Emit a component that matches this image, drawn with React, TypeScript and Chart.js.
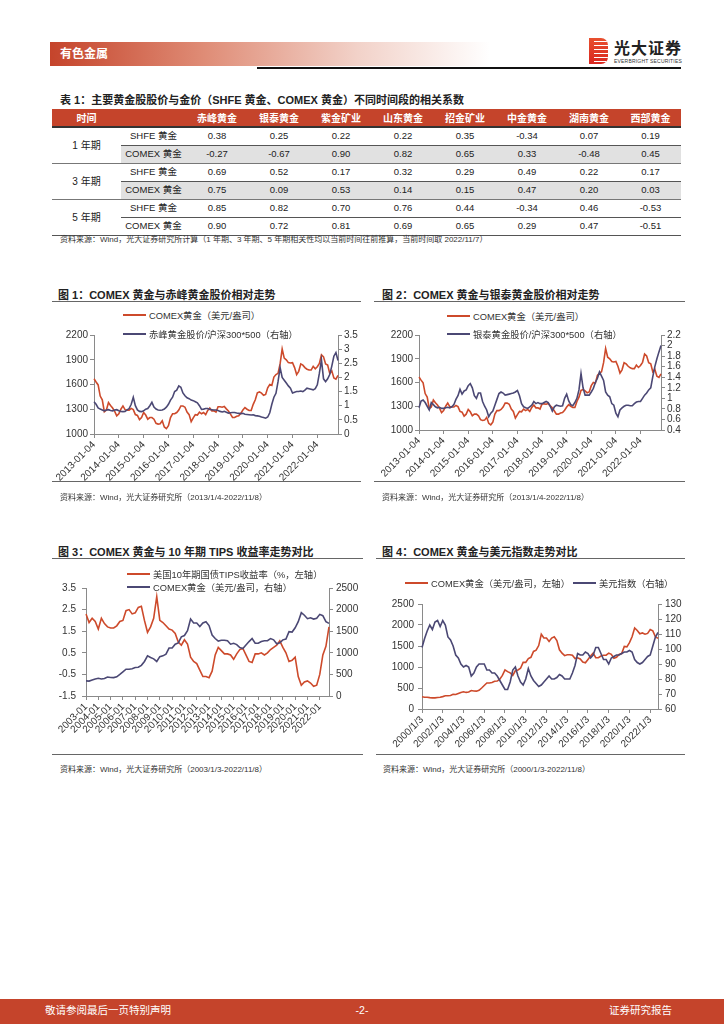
import React, { useEffect, useRef } from 'react';
import { Chart, registerables } from 'chart.js';
Chart.register(...registerables);

const RED = '#cd4a2b';
const NAVY = '#4b4874';
const HEADER_RED = '#c5442b';
const AXIS = '#8a8a8a';
const FONT = '"Liberation Sans", "Noto Sans CJK SC", sans-serif';

// ---------------- Table data ----------------
const stockNames = ['赤峰黄金', '银泰黄金', '紫金矿业', '山东黄金', '招金矿业', '中金黄金', '湖南黄金', '西部黄金'];
const periodNames = ['1 年期', '3 年期', '5 年期'];
const goldRefs = ['SHFE 黄金', 'COMEX 黄金'];
const corr1ySHFE = ['0.38', '0.25', '0.22', '0.22', '0.35', '-0.34', '0.07', '0.19'];
const corr1yCOMEX = ['-0.27', '-0.67', '0.90', '0.82', '0.65', '0.33', '-0.48', '0.45'];
const corr3ySHFE = ['0.69', '0.52', '0.17', '0.32', '0.29', '0.49', '0.22', '0.17'];
const corr3yCOMEX = ['0.75', '0.09', '0.53', '0.14', '0.15', '0.47', '0.20', '0.03'];
const corr5ySHFE = ['0.85', '0.82', '0.70', '0.76', '0.44', '-0.34', '0.46', '-0.53'];
const corr5yCOMEX = ['0.90', '0.72', '0.81', '0.69', '0.65', '0.29', '0.47', '-0.51'];
const corrRows = [corr1ySHFE, corr1yCOMEX, corr3ySHFE, corr3yCOMEX, corr5ySHFE, corr5yCOMEX];

// ---------------- Chart data ----------------
function monthLabels(startY: number, endY: number, endM: number) {
  const out: string[] = [];
  for (let y = startY; y <= endY; y++) {
    for (let m = 1; m <= 12; m++) {
      if (y === endY && m > endM) break;
      out.push(`${y}-${String(m).padStart(2, '0')}`);
    }
  }
  return out;
}
function quarterLabels(startY: number, endY: number) {
  const out: string[] = [];
  for (let y = startY; y <= endY; y++) for (const m of ['01', '04', '07', '10']) out.push(`${y}-${m}`);
  return out;
}
const months2013 = monthLabels(2013, 2022, 11);
const quarters2000 = quarterLabels(2000, 2022);
const quarters2003 = quarters2000.slice(12);

// COMEX gold, monthly 2013-01 .. 2022-11 (USD/oz)
const goldMonthly = [
  1670, 1630, 1595, 1460, 1415, 1270, 1290, 1380, 1345, 1315, 1275, 1220,
  1245, 1300, 1340, 1295, 1290, 1290, 1310, 1295, 1235, 1225, 1175, 1200,
  1260, 1230, 1180, 1200, 1200, 1180, 1130, 1120, 1125, 1160, 1085, 1065,
  1100, 1200, 1245, 1245, 1260, 1290, 1340, 1340, 1325, 1265, 1235, 1150,
  1195, 1235, 1230, 1265, 1245, 1260, 1235, 1285, 1315, 1280, 1280, 1265,
  1330, 1330, 1325, 1335, 1305, 1280, 1240, 1200, 1200, 1215, 1220, 1250,
  1290, 1320, 1300, 1285, 1285, 1360, 1415, 1500, 1510, 1495, 1470, 1480,
  1560, 1600, 1590, 1690, 1720, 1735, 1850, 2030, 1920, 1900, 1865, 1860,
  1865, 1805, 1720, 1760, 1850, 1835, 1805, 1785, 1775, 1775, 1820, 1790,
  1815, 1855, 1960, 1935, 1850, 1835, 1735, 1765, 1680, 1665, 1710,
];
// 赤峰黄金股价/沪深300*500, monthly
const chifengRatio = [
  1.14, 1.05, 0.92, 0.88, 0.85, 0.82, 0.85, 0.86, 0.83, 0.82, 0.85, 0.86,
  0.82, 0.8, 0.79, 0.8, 0.85, 0.9, 1.05, 1.3, 1.0, 0.85, 0.8, 0.79,
  0.82, 0.88, 0.9, 1.0, 1.12, 0.95, 0.88, 0.85, 0.84, 0.85, 0.88, 0.95,
  1.05, 1.2, 1.3, 1.5, 1.55, 1.7, 1.65, 1.45, 1.35, 1.28, 1.25, 1.2,
  1.18, 1.14, 1.1, 1.0, 0.87, 0.88, 0.9, 0.9, 0.87, 0.86, 0.85, 0.85,
  0.83, 0.8, 0.78, 0.8, 0.77, 0.74, 0.75, 0.76, 0.76, 0.74, 0.73, 0.72,
  0.73, 0.7, 0.69, 0.68, 0.67, 0.68, 0.65, 0.64, 0.63, 0.6, 0.58, 0.56,
  0.6, 0.75, 1.05, 1.3, 1.44, 1.85, 2.35, 2.0, 1.9, 1.8, 1.7, 1.62,
  1.45, 1.48, 1.5, 1.5, 1.52, 1.5, 1.55, 1.62, 1.6, 1.58, 1.56, 1.6,
  1.74, 2.15, 2.62, 1.95, 1.85, 1.95, 2.1, 2.4, 2.75, 2.88, 2.6,
];
// 银泰黄金股价/沪深300*500, monthly
const yintaiRatio = [
  0.82, 0.95, 0.97, 0.92, 0.85, 0.78, 0.92, 0.88, 0.84, 0.82, 0.83, 0.81,
  0.81, 0.82, 0.83, 0.82, 0.84, 0.88, 0.98, 1.05, 1.17, 1.08, 1.14, 1.16,
  1.24, 1.28, 1.2, 1.05, 1.0, 1.1, 1.1, 0.94, 0.85, 0.78, 0.65, 0.72,
  0.76, 0.87, 0.98, 1.09, 1.12, 1.1, 1.06, 1.07, 1.08, 1.09, 1.1, 1.12,
  1.15, 1.05, 0.9, 0.84, 0.82, 0.81, 0.84, 0.87, 0.94, 0.9, 0.92, 0.9,
  0.9, 0.92, 0.94, 0.92, 0.85, 0.76, 0.84, 0.87, 0.86, 0.85, 0.86, 1.0,
  1.08, 0.95, 0.88, 0.86, 0.92, 1.0, 1.16, 1.47, 1.2, 1.06, 1.06, 1.06,
  1.12, 1.19, 1.3, 1.38, 1.5, 1.42, 1.34, 1.12, 1.06, 1.03, 0.9, 0.87,
  0.72, 0.65, 0.78, 0.82, 0.85, 0.87, 0.87, 0.86, 0.86, 0.9, 0.93, 0.94,
  0.94, 1.0, 1.06, 1.1, 1.16, 1.2, 1.41, 1.6, 1.75, 1.88, 2.0,
];
// COMEX gold, quarterly 2000Q1 .. 2022Q4
const goldQuarterly = [
  290, 280, 280, 270,
  265, 265, 275, 280,
  295, 315, 315, 320,
  350, 345, 370, 395,
  410, 395, 405, 440,
  430, 425, 445, 500,
  560, 620, 620, 630,
  660, 665, 710, 800,
  930, 890, 860, 800,
  910, 930, 970, 1110,
  1110, 1200, 1230, 1370,
  1400, 1510, 1780, 1690,
  1690, 1610, 1690, 1720,
  1630, 1410, 1330, 1270,
  1290, 1290, 1280, 1200,
  1220, 1190, 1120, 1100,
  1180, 1260, 1330, 1220,
  1220, 1260, 1280, 1280,
  1330, 1300, 1210, 1230,
  1300, 1320, 1490, 1480,
  1580, 1720, 1930, 1870,
  1790, 1810, 1780, 1800,
  1890, 1860, 1720, 1680,
];
// US dollar index, quarterly 2000Q1 .. 2022Q4
const usdIndexQuarterly = [
  101, 107, 112, 116,
  113, 118, 119, 115,
  119, 116, 108, 106,
  102, 96, 94, 90,
  88, 89, 88, 82,
  84, 88, 90, 90,
  90, 86, 86, 84,
  84, 82, 79, 76,
  73, 73, 78, 86,
  88, 82, 78, 76,
  80, 87, 82, 79,
  77, 75, 76, 78,
  80, 82, 80, 80,
  81, 83, 82, 80,
  80, 80, 84, 89,
  97, 96, 96, 98,
  97, 94, 96, 101,
  101, 97, 93, 93,
  90, 94, 95, 96,
  96, 97, 98, 98,
  99, 98, 93, 91,
  90, 91, 93, 95,
  96, 102, 108, 111,
];
// US 10Y TIPS yield (%), quarterly 2003Q1 .. 2022Q4
const tipsYieldQuarterly = [
  2.3, 1.9, 2.1, 1.95,
  1.6, 2.1, 1.85, 1.7,
  1.65, 1.65, 1.75, 1.95,
  2.0, 2.45, 2.5, 2.3,
  2.35, 2.6, 2.65, 2.0,
  1.45, 1.7, 2.1, 3.1,
  2.0, 1.9, 1.75, 1.6,
  1.55, 1.4, 1.0, 0.85,
  1.1, 0.9, 0.3, 0.1,
  0.0, -0.3, -0.6, -0.6,
  -0.65, -0.35, 0.4, 0.75,
  0.6, 0.45, 0.45, 0.4,
  0.2, 0.45, 0.65, 0.7,
  0.4, 0.1, 0.05, 0.45,
  0.45, 0.5, 0.4, 0.5,
  0.65, 0.75, 0.85, 1.05,
  0.75, 0.5, 0.1, 0.15,
  0.3, -0.6, -1.0, -0.85,
  -0.8, -0.9, -1.05, -1.0,
  -0.5, 0.4, 0.8, 1.7,
];
const goldQuarterly2003 = goldQuarterly.slice(12);

// axis tick values
const ticksGold1000 = [1000, 1300, 1600, 1900, 2200];
const ticksChifeng = [0, 0.5, 1, 1.5, 2, 2.5, 3, 3.5];
const ticksYintai = [0.4, 0.6, 0.8, 1, 1.2, 1.4, 1.6, 1.8, 2, 2.2];
const ticksTips = [-1.5, -0.5, 0.5, 1.5, 2.5, 3.5];
const ticksGold0 = [0, 500, 1000, 1500, 2000, 2500];
const ticksUsd = [60, 70, 80, 90, 100, 110, 120, 130];

const fmtYearDay = (l: string) => (l.endsWith('-01') ? `${l.slice(0, 4)}-01-04` : '');
const fmtYearMonth = (l: string) => (l.endsWith('-01') ? `${l.slice(0, 4)}-01` : '');
const fmtEvenYear = (l: string) => (l.endsWith('-01') && Number(l.slice(0, 4)) % 2 === 0 ? `${l.slice(0, 4)}/1/3` : '');

type Series = { data: number[]; color: string; axis: 'yL' | 'yR' };
type AxisSpec = { min: number; max: number; ticks: number[]; width: number; pad: number };
type ChartProps = {
  left: number; top: number; width: number; height: number; padTop: number; xH: number;
  labels: string[]; xFmt: (l: string) => string; series: Series[]; yL: AxisSpec; yR: AxisSpec;
};

function DualLineChart(p: ChartProps) {
  const ref = useRef<HTMLCanvasElement>(null);
  useEffect(() => {
    const tickFont = { family: FONT, size: 10 };
    const yAxis = (spec: AxisSpec, pos: 'left' | 'right') => ({
      type: 'linear' as const,
      position: pos,
      min: spec.min,
      max: spec.max,
      afterBuildTicks: (s: any) => { s.ticks = spec.ticks.map((v) => ({ value: v })); },
      afterFit: (s: any) => { s.width = spec.width; },
      grid: { drawOnChartArea: false, drawTicks: true, tickLength: 4, color: AXIS, tickColor: AXIS },
      border: { display: true, color: AXIS, width: 1 },
      ticks: { autoSkip: false, color: '#333', font: tickFont, padding: spec.pad, callback: (v: any) => String(v) },
    });
    const chart = new Chart(ref.current!, {
      type: 'line',
      data: {
        labels: p.labels,
        datasets: p.series.map((s) => ({
          data: s.data, borderColor: s.color, backgroundColor: s.color, borderWidth: 1.6,
          pointRadius: 0, tension: 0, yAxisID: s.axis, fill: false,
        })),
      },
      options: {
        animation: false,
        responsive: false,
        devicePixelRatio: 1,
        layout: { padding: { top: p.padTop, left: 0, right: 0, bottom: 0 } },
        plugins: { legend: { display: false }, tooltip: { enabled: false } },
        scales: {
          x: {
            type: 'category',
            offset: false,
            afterFit: (s: any) => { s.height = p.xH; },
            grid: {
              drawOnChartArea: false, drawTicks: true, tickLength: 4,
              color: (c: any) => (c.tick && c.tick.label ? AXIS : 'rgba(0,0,0,0)'),
              tickColor: (c: any) => (c.tick && c.tick.label ? AXIS : 'rgba(0,0,0,0)'),
            },
            border: { display: true, color: AXIS, width: 1 },
            ticks: {
              autoSkip: false, minRotation: 45, maxRotation: 45, padding: 1, color: '#333', font: tickFont,
              callback: (_v: any, i: number) => p.xFmt(p.labels[i]),
            },
          },
          yL: yAxis(p.yL, 'left'),
          yR: yAxis(p.yR, 'right'),
        } as any,
      },
    });
    return () => chart.destroy();
  }, []);
  return (
    <canvas ref={ref} width={p.width} height={p.height}
      style={{ position: 'absolute', left: p.left, top: p.top, width: p.width, height: p.height }} />
  );
}

const abs = (left: number, top: number, extra: React.CSSProperties = {}): React.CSSProperties => ({
  position: 'absolute', left, top, ...extra,
});

function Text({ x, y, size, children, bold, color = '#222', align = 'left', w }: any) {
  const style: React.CSSProperties = {
    position: 'absolute', top: y - size * 0.75, fontSize: size, lineHeight: `${size * 1.5}px`,
    height: size * 1.5, whiteSpace: 'nowrap', fontWeight: bold ? 700 : 400, color,
  };
  if (align === 'center') { style.left = x - w / 2; style.width = w; style.textAlign = 'center'; }
  else if (align === 'right') { style.left = x - w; style.width = w; style.textAlign = 'right'; }
  else style.left = x;
  return <div style={style}>{children}</div>;
}

function Legend({ x, y, color, text }: { x: number; y: number; color: string; text: string }) {
  return (
    <div style={abs(x, y - 7, { height: 14, display: 'flex', alignItems: 'center', whiteSpace: 'nowrap', fontSize: 9.3, color: '#333' })}>
      <span style={{ display: 'inline-block', width: 23, height: 2, background: color, marginRight: 3 }} />
      {text}
    </div>
  );
}

function HLine({ x1, x2, y, h = 1, color = '#666' }: any) {
  return <div style={abs(x1, y, { width: x2 - x1, height: h, background: color })} />;
}

const colEdges = [52, 121, 186, 248, 310, 372, 434, 496, 558, 620, 681];
const rowTop = 127;
const rowH = 18;

function CorrTable() {
  const cells: React.ReactNode[] = [];
  cells.push(<div key="hdr" style={abs(colEdges[0], 109, { width: colEdges[10] - colEdges[0], height: 18, background: HEADER_RED })} />);
  cells.push(<Text key="h0" x={(colEdges[0] + colEdges[1]) / 2} y={118} size={10} bold color="#fff" align="center" w={60}>时间</Text>);
  stockNames.forEach((n, i) => {
    cells.push(<Text key={'h' + n} x={(colEdges[i + 2] + colEdges[i + 3]) / 2} y={118} size={10} bold color="#fff" align="center" w={60}>{n}</Text>);
  });
  corrRows.forEach((vals, r) => {
    const top = rowTop + r * rowH;
    if (r % 2 === 1 && r < 4) {
      cells.push(<div key={'bg' + r} style={abs(colEdges[1], top, { width: colEdges[10] - colEdges[1], height: rowH, background: '#e1e1e1' })} />);
    }
    cells.push(<Text key={'ref' + r} x={(colEdges[1] + colEdges[2]) / 2} y={top + 9} size={9.5} color="#222" align="center" w={64}>{goldRefs[r % 2]}</Text>);
    vals.forEach((v, c) => {
      cells.push(<Text key={`v${r}-${c}`} x={(colEdges[c + 2] + colEdges[c + 3]) / 2} y={top + 9} size={9.5} color="#222" align="center" w={60}>{v}</Text>);
    });
  });
  periodNames.forEach((p, i) => {
    cells.push(<Text key={'p' + i} x={(colEdges[0] + colEdges[1]) / 2} y={rowTop + i * 2 * rowH + rowH} size={10} color="#222" align="center" w={60}>{p}</Text>);
  });
  cells.push(<HLine key="l0" x1={colEdges[0]} x2={colEdges[10]} y={126} h={2} color="#333" />);
  [1, 3, 5].forEach((r) => cells.push(<HLine key={'li' + r} x1={colEdges[1]} x2={colEdges[10]} y={rowTop + r * rowH} h={1} color="#555" />));
  [2, 4].forEach((r) => cells.push(<HLine key={'lg' + r} x1={colEdges[0]} x2={colEdges[10]} y={rowTop + r * rowH} h={1} color="#777" />));
  cells.push(<HLine key="lb" x1={colEdges[0]} x2={colEdges[10]} y={rowTop + 6 * rowH} h={1} color="#555" />);
  return <>{cells}</>;
}

function Logo() {
  const stripes = [0, 1, 2, 3, 4, 5];
  return (
    <>
      <div style={abs(589, 38, { width: 19, height: 26, background: 'linear-gradient(180deg,#e8502f,#d9261f)', borderRadius: '0 7px 7px 0', overflow: 'hidden' })}>
        {stripes.map((s) => (
          <div key={s} style={abs(5, 3 + s * 4, { width: 14, height: 1.3, background: '#fff' })} />
        ))}
      </div>
      <div style={abs(614, 40, { fontSize: 16, fontWeight: 700, color: '#222', letterSpacing: 1, lineHeight: '18px', whiteSpace: 'nowrap' })}>光大证券</div>
      <div style={abs(614, 58, { fontSize: 5, color: '#333', lineHeight: '6px', whiteSpace: 'nowrap', letterSpacing: 0.2 })}>EVERBRIGHT SECURITIES</div>
    </>
  );
}

export default function App() {
  return (
    <div style={{ position: 'absolute', left: 0, top: 0, width: 724, height: 1024, background: '#fff', overflow: 'hidden', fontFamily: FONT }}>
      {/* page header */}
      <div style={abs(50, 42, { width: 440, height: 24, background: `linear-gradient(90deg, ${HEADER_RED} 0%, #df8c76 35%, #f2d2c9 70%, #ffffff 100%)` })} />
      <Text x={60} y={54} size={12} bold color="#fff">有色金属</Text>
      <HLine x1={257} x2={681} y={67} h={1.5} color="#111" />
      <Logo />

      {/* table */}
      <Text x={60} y={100} size={11} bold color="#222">表 1：主要黄金股股价与金价（SHFE 黄金、COMEX 黄金）不同时间段的相关系数</Text>
      <CorrTable />
      <Text x={60} y={240} size={8} color="#333">资料来源：Wind，光大证券研究所计算（1 年期、3 年期、5 年期相关性均以当前时间往前推算，当前时间取 2022/11/7）</Text>

      {/* chart 1 */}
      <Text x={58} y={295} size={11} bold color="#222">图 1：COMEX 黄金与赤峰黄金股价相对走势</Text>
      <HLine x1={52} x2={361} y={301} h={1} color="#666" />
      <DualLineChart left={50} top={325} width={312} height={157} padTop={10} xH={48}
        labels={months2013} xFmt={fmtYearDay}
        series={[{ data: chifengRatio, color: NAVY, axis: 'yR' }, { data: goldMonthly, color: RED, axis: 'yL' }]}
        yL={{ min: 1000, max: 2200, ticks: ticksGold1000, width: 44, pad: 2 }}
        yR={{ min: 0, max: 3.5, ticks: ticksChifeng, width: 24, pad: 2 }} />
      <Legend x={123} y={315} color={RED} text="COMEX黄金（美元/盎司）" />
      <Legend x={123} y={334} color={NAVY} text="赤峰黄金股价/沪深300*500（右轴）" />
      <HLine x1={52} x2={361} y={481} h={1} color="#666" />
      <Text x={60} y={498} size={8} color="#333">资料来源：Wind，光大证券研究所（2013/1/4-2022/11/8）</Text>

      {/* chart 2 */}
      <Text x={382} y={295} size={11} bold color="#222">图 2：COMEX 黄金与银泰黄金股价相对走势</Text>
      <HLine x1={374} x2={685} y={301} h={1} color="#666" />
      <DualLineChart left={372} top={325} width={318} height={153} padTop={10} xH={48}
        labels={months2013} xFmt={fmtYearDay}
        series={[{ data: yintaiRatio, color: NAVY, axis: 'yR' }, { data: goldMonthly, color: RED, axis: 'yL' }]}
        yL={{ min: 1000, max: 2200, ticks: ticksGold1000, width: 47, pad: 2 }}
        yR={{ min: 0.4, max: 2.2, ticks: ticksYintai, width: 29, pad: 2 }} />
      <Legend x={447} y={316} color={RED} text="COMEX黄金（美元/盎司）" />
      <Legend x={447} y={334} color={NAVY} text="银泰黄金股价/沪深300*500（右轴）" />
      <HLine x1={374} x2={685} y={481} h={1} color="#666" />
      <Text x={382} y={498} size={8} color="#333">资料来源：Wind，光大证券研究所（2013/1/4-2022/11/8）</Text>

      {/* chart 3 */}
      <Text x={58} y={552} size={11} bold color="#222">图 3：COMEX 黄金与 10 年期 TIPS 收益率走势对比</Text>
      <HLine x1={52} x2={363} y={558} h={1} color="#666" />
      <DualLineChart left={40} top={576} width={322} height={164} padTop={10} xH={44}
        labels={quarters2003} xFmt={fmtYearMonth}
        series={[{ data: goldQuarterly2003, color: NAVY, axis: 'yR' }, { data: tipsYieldQuarterly, color: RED, axis: 'yL' }]}
        yL={{ min: -1.5, max: 3.5, ticks: ticksTips, width: 46, pad: 6 }}
        yR={{ min: 0, max: 2500, ticks: ticksGold0, width: 33, pad: 3 }} />
      <Legend x={127} y={574} color={RED} text="美国10年期国债TIPS收益率（%，左轴）" />
      <Legend x={127} y={587} color={NAVY} text="COMEX黄金（美元/盎司，右轴）" />
      <HLine x1={52} x2={363} y={754} h={1} color="#666" />
      <Text x={60} y={770} size={8} color="#333">资料来源：Wind，光大证券研究所（2003/1/3-2022/11/8）</Text>

      {/* chart 4 */}
      <Text x={382} y={552} size={11} bold color="#222">图 4：COMEX 黄金与美元指数走势对比</Text>
      <HLine x1={376} x2={685} y={558} h={1} color="#666" />
      <DualLineChart left={375} top={594} width={315} height={156} padTop={10} xH={41}
        labels={quarters2000} xFmt={fmtEvenYear}
        series={[{ data: usdIndexQuarterly, color: NAVY, axis: 'yR' }, { data: goldQuarterly, color: RED, axis: 'yL' }]}
        yL={{ min: 0, max: 2500, ticks: ticksGold0, width: 47, pad: 4 }}
        yR={{ min: 60, max: 130, ticks: ticksUsd, width: 32, pad: 3 }} />
      <Legend x={405} y={583} color={RED} text="COMEX黄金（美元/盎司，左轴）" />
      <Legend x={573} y={583} color={NAVY} text="美元指数（右轴）" />
      <HLine x1={376} x2={685} y={754} h={1} color="#666" />
      <Text x={383} y={770} size={8} color="#333">资料来源：Wind，光大证券研究所（2000/1/3-2022/11/8）</Text>

      {/* footer */}
      <div style={abs(0, 999, { width: 724, height: 25, background: HEADER_RED })} />
      <Text x={45} y={1011} size={10.5} color="#fff">敬请参阅最后一页特别声明</Text>
      <Text x={362} y={1011} size={10.5} color="#fff" align="center" w={40}>-2-</Text>
      <Text x={672} y={1011} size={10.5} color="#fff" align="right" w={120}>证券研究报告</Text>
    </div>
  );
}
